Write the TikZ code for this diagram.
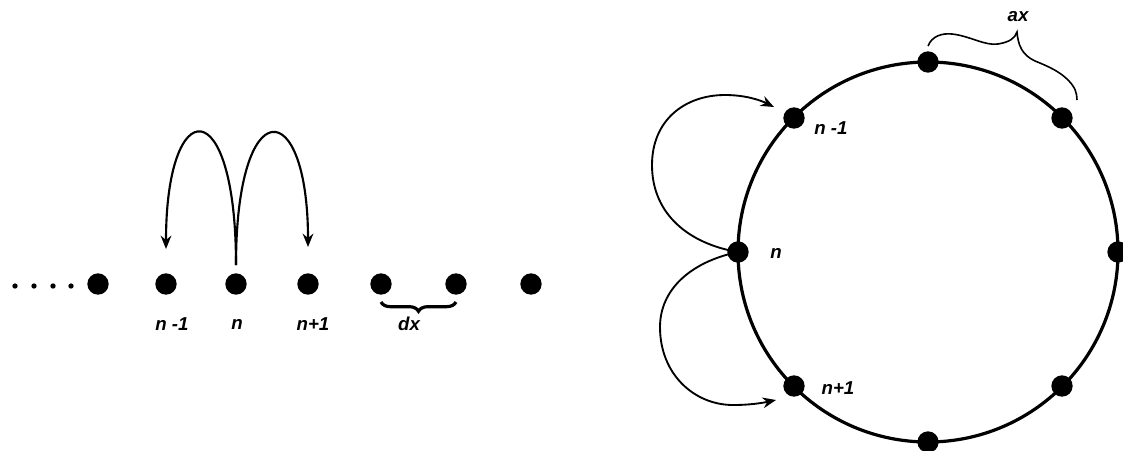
\documentclass[tikz,border=0pt]{standalone}
\usepackage{fontspec}
\setmainfont{Liberation Sans}
\usetikzlibrary{arrows.meta,decorations.pathreplacing}
\begin{document}
\begin{tikzpicture}[x=0.75pt,y=-0.75pt,
  dot/.style={circle,fill=black,inner sep=0pt,minimum size=16pt},
  smalldot/.style={circle,fill=black,inner sep=0pt,minimum size=4pt},
  lbl/.style={font=\fontsize{14}{16}\selectfont\bfseries\itshape,inner sep=0pt},
  arc/.style={line width=1.6pt,-{Stealth[length=10pt,width=8pt]}},
  ring/.style={line width=2.4pt},
  brc/.style={line width=1.2pt}]
\useasboundingbox (0,0) rectangle (1123,450);
% ---- left: chain ----
\foreach \i/\x in {1/15,2/34,3/53,4/71}{\node[smalldot] (s\i) at (\x,286) {};}
\node[dot] (d1) at (98,284) {};
\node[dot] (nm) at (166,284) {};
\node[dot] (n0) at (236,284) {};
\node[dot] (np) at (308,284) {};
\node[dot] (d5) at (381,284) {};
\node[dot] (d6) at (456,284) {};
\node[dot] (d7) at (531,284) {};
\coordinate (n0top) at (236,265);
\coordinate (nmtop) at (166,249);
\coordinate (nptop) at (308,247);
\draw[arc] (n0top) .. controls +(0,-175) and +(0,-157) .. (nmtop);
\draw[arc] (n0top) .. controls +(0,-175) and +(0,-153) .. (nptop);
\draw[line width=2.4pt,decorate,decoration={brace,mirror,amplitude=7pt}] (381,302) -- (456,302);
\node[lbl] (lnm) at (172,324) {n -1};
\node[lbl] (ln0) at (237,324) {n};
\node[lbl] (lnp) at (313,324) {n+1};
\node[lbl] (ldx) at (409,324) {dx};
% ---- right: ring ----
\draw[ring] (928,252) circle[radius=142.5pt];
\node[dot] (c0) at (1118,252) {};
\node[dot] (c1) at (1062,118) {};
\node[dot] (c2) at (928,62) {};
\node[dot] (c3) at (794,118) {};
\node[dot] (c4) at (738,252) {};
\node[dot] (c5) at (794,386) {};
\node[dot] (c6) at (928,442) {};
\node[dot] (c7) at (1062,386) {};
\coordinate (t3) at (774,107);
\coordinate (t5) at (776,400);
\draw[arc,line width=1.4pt] (c4.center) .. controls (690,244) and (652,215) .. (652,165)
   .. controls (652,120) and (685,95) .. (725,95)
   .. controls (745,95) and (760,100) .. (t3);
\draw[arc,line width=1.4pt] (c4.center) .. controls (690,262) and (660,290) .. (660,327)
   .. controls (660,375) and (695,405) .. (733,405)
   .. controls (750,405) and (762,403) .. (t5);
\coordinate (b1) at (928,46);
\coordinate (btip) at (1017,32);
\coordinate (b2) at (1077,100);
\draw[brc] (b1) .. controls (932,36) and (942,33) .. (952,34)
   .. controls (970,36) and (985,46) .. (998,44)
   .. controls (1010,42) and (1015,38) .. (btip)
   .. controls (1018,45) and (1022,55) .. (1035,61)
   .. controls (1050,67) and (1060,72) .. (1068,80)
   .. controls (1075,87) and (1077,93) .. (b2);
\node[lbl] (lax) at (1018,17) {ax};
\node[lbl] (lc3) at (831,128) {n -1};
\node[lbl] (lc4) at (776,253) {n};
\node[lbl] (lc5) at (838,388) {n+1};
\end{tikzpicture}
\end{document}
